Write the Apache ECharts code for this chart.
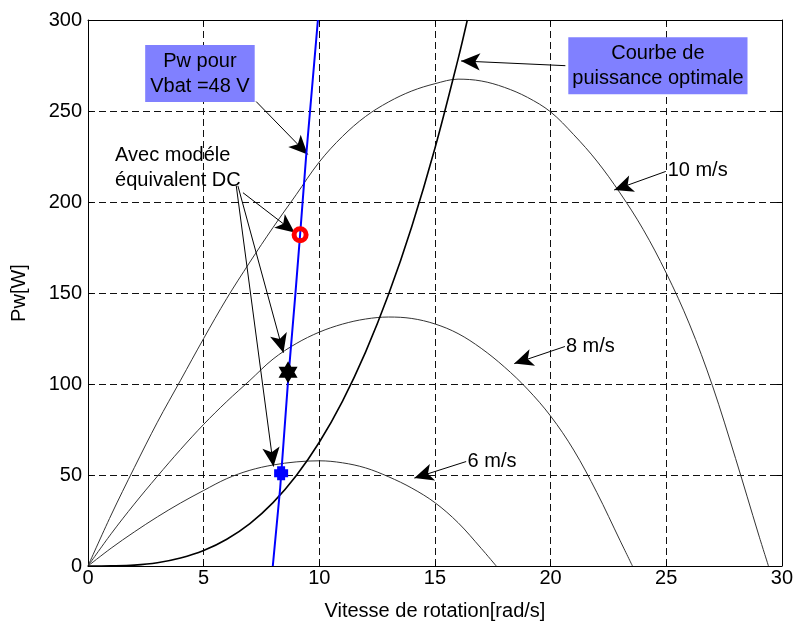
<!DOCTYPE html>
<html>
<head>
<meta charset="utf-8">
<script src="https://cdn.jsdelivr.net/npm/echarts@6/dist/echarts.min.js"></script>
<style>
html,body{margin:0;padding:0;background:#fff;}
#chart{width:796px;height:626px;}
</style>
</head>
<body>
<div id="chart"></div>
<script>
// ---- data ----
const xTicks = [0, 5, 10, 15, 20, 25, 30];
const yTicks = [0, 50, 100, 150, 200, 250, 300];

// 10 m/s curve
const w10 = [0,1,2,3,4,5,6,7,8,9,10,11,12,13,14,15,16,17,18,19,20,21,22,23,24,25,26,27,28,29,29.42];
const p10 = [0,28,54,79,102,125,147,167,186,204,222,236,247,255,261,265,267.5,266.5,263,257.5,249.5,237,222.5,205,185,161,133,99,59,17,0];

// 8 m/s curve
const w8 = [0,1,2,3,4,5,6,7,8,9,10,11,12,13,14,15,16,17,18,19,20,21,22,23,23.54];
const p8 = [0,17.7,34,49.3,64,77.8,90.4,102,113.7,122.2,128.5,132.9,135.7,136.8,136,133,127.7,119.6,109.4,97.2,82.4,63.7,40.4,14.1,0];

// 6 m/s curve
const w6 = [0,1,2,3,4,5,6,7,8,9,10,11,12,13,14,15,16,17,17.65];
const p6 = [0,9.8,18.7,27,34.6,41.5,48,52.6,55.5,57.2,57.8,56.7,53.9,49,42.8,34.8,23.8,9.7,0];

// optimal power curve
const wOpt = [0,1,2,3,4,5,6,7,8,9,10,11,12,13,14,15,16,16.4];
const pOpt = [0,0.1,0.5,1.8,4.4,8.5,14.7,23.3,34.8,49.6,68,90.5,117.5,149.4,186.6,229.5,278.5,300];

// Pw for Vbat = 48 V
const wBat = [7.99,8.31,8.64,8.97,9.17,9.43,9.94];
const pBat = [0,43,100,150,182,225,300];

// DC equivalent model points
const ptCircle = [9.17, 182];
const ptHexa = [8.65, 106.5];
const ptBlue = [8.35, 51];

// annotation texts
const txtPw = 'Pw pour\nVbat =48 V';
const txtOpt = 'Courbe de\npuissance optimale';
const txtAvec = 'Avec modéle\néquivalent DC';
const txt10 = '10 m/s', txt8 = '8 m/s', txt6 = '6 m/s';

// annotation anchors (data coordinates)
const posPw = [4.84, 270.6];
const posOpt = [24.64, 274.8];
const posAvec = [1.15, 218.5];
const pos10 = [25.04, 217.2];
const pos8 = [20.64, 120.5];
const pos6 = [16.39, 57.4];

// arrows: [tail, head]
const arrows = [
  [[7.27, 255.2], [9.50, 226.1]],
  [[20.64, 274.9], [16.13, 277.5]],
  [[24.98, 216.8], [22.75, 206.6]],
  [[20.62, 120.6], [18.43, 111.2]],
  [[16.35, 57.4], [14.11, 48.3]],
  [[6.70, 205.1], [8.93, 183.3]],
  [[6.48, 208.9], [8.45, 117.2]],
  [[6.41, 208.9], [8.02, 54.7]]
];

const pairs = (xs, ys) => xs.map((x, i) => [x, ys[i]]);
const FONT = "'Liberation Sans', Arial, Helvetica, sans-serif";

const chart = echarts.init(document.getElementById('chart'), null, {renderer: 'canvas'});

const hexPath = 'path://M0,-1 L0.2887,-0.5 L0.866,-0.5 L0.5774,0 L0.866,0.5 L0.2887,0.5 L0,1 L-0.2887,0.5 L-0.866,0.5 L-0.5774,0 L-0.866,-0.5 L-0.2887,-0.5 Z';
const blobPath = 'path://M-0.5,-1 L0.5,-1 L0.5,-0.5 L1,-0.5 L1,0.5 L0.5,0.5 L0.5,1 L-0.5,1 L-0.5,0.5 L-1,0.5 L-1,-0.5 L-0.5,-0.5 Z';

const textPoint = (coord, text, opts) => ({
  coord: coord, value: 0, symbol: 'rect', symbolSize: 1,
  itemStyle: {color: 'rgba(0,0,0,0)'},
  label: Object.assign({
    show: true, formatter: text, color: '#000', fontSize: 20, fontFamily: FONT,
    lineHeight: 25
  }, opts)
});

const curveStyle = (w, c) => ({color: c, width: w});

const option = {
  animation: false,
  backgroundColor: '#fff',
  grid: {left: 88, right: 13, top: 20, bottom: 58, containLabel: false, show: false},
  xAxis: [{
    type: 'value', min: 0, max: 30, interval: 5, position: 'bottom',
    axisLine: {show: true, onZero: false, lineStyle: {color: '#000', width: 1}},
    axisTick: {show: true, inside: true, length: 5, lineStyle: {color: '#000'}},
    axisLabel: {show: true, color: '#000', fontSize: 20, fontFamily: FONT, margin: 2,
      formatter: v => (xTicks.indexOf(v) >= 0 ? String(v) : '')},
    splitLine: {show: true, lineStyle: {color: '#111', width: 1, type: [7, 4]}},
    name: 'Vitesse de rotation[rad/s]', nameLocation: 'middle', nameGap: 35,
    nameTextStyle: {color: '#000', fontSize: 20, fontFamily: FONT}
  }, {
    type: 'value', min: 0, max: 30, interval: 5, position: 'top',
    axisLine: {show: true, onZero: false, lineStyle: {color: '#000', width: 1}},
    axisTick: {show: true, inside: true, length: 5, lineStyle: {color: '#000'}},
    axisLabel: {show: false}, splitLine: {show: false}
  }],
  yAxis: [{
    type: 'value', min: 0, max: 300, interval: 50, position: 'left',
    axisLine: {show: true, onZero: false, lineStyle: {color: '#000', width: 1}},
    axisTick: {show: true, inside: true, length: 5, lineStyle: {color: '#000'}},
    axisLabel: {show: true, color: '#000', fontSize: 20, fontFamily: FONT, margin: 6,
      formatter: v => (yTicks.indexOf(v) >= 0 ? String(v) : '')},
    splitLine: {show: true, lineStyle: {color: '#111', width: 1, type: [7, 4]}},
    name: 'Pw[W]', nameLocation: 'middle', nameGap: 59, nameRotate: 90,
    nameTextStyle: {color: '#000', fontSize: 20, fontFamily: FONT}
  }, {
    type: 'value', min: 0, max: 300, interval: 50, position: 'right',
    axisLine: {show: true, onZero: false, lineStyle: {color: '#000', width: 1}},
    axisTick: {show: true, inside: true, length: 5, lineStyle: {color: '#000'}},
    axisLabel: {show: false}, splitLine: {show: false}
  }],
  series: [
    {name: '10 m/s', type: 'line', data: pairs(w10, p10), showSymbol: false, smooth: 0.35,
     lineStyle: curveStyle(1, '#333'), z: 3, silent: true},
    {name: '8 m/s', type: 'line', data: pairs(w8, p8), showSymbol: false, smooth: 0.35,
     lineStyle: curveStyle(1, '#333'), z: 3, silent: true},
    {name: '6 m/s', type: 'line', data: pairs(w6, p6), showSymbol: false, smooth: 0.35,
     lineStyle: curveStyle(1, '#333'), z: 3, silent: true},
    {name: 'optimale', type: 'line', data: pairs(wOpt, pOpt), showSymbol: false, smooth: 0.35,
     lineStyle: curveStyle(1.6, '#000'), z: 4, silent: true},
    {name: 'Vbat', type: 'line', data: pairs(wBat, pBat), showSymbol: false,
     lineStyle: curveStyle(2, '#0000ff'), z: 5, silent: true,
     markLine: {
       silent: true, animation: false,
       symbol: ['none', 'arrow'], symbolSize: [13, 19],
       label: {show: false},
       lineStyle: {color: '#000', width: 1, type: 'solid'},
       emphasis: {disabled: true},
       data: arrows.map(a => [{coord: a[0]}, {coord: a[1]}])
     },
     markPoint: {
       silent: true, animation: false,
       data: [
         textPoint(posPw, txtPw, {position: 'inside', align: 'center', verticalAlign: 'middle',
           backgroundColor: '#8080ff', padding: [4, 5, 3, 5]}),
         textPoint(posOpt, txtOpt, {position: 'inside', align: 'center', verticalAlign: 'middle',
           backgroundColor: '#8080ff', padding: [4, 4, 3, 4]}),
         textPoint(posAvec, txtAvec, {position: 'right', distance: 0, align: 'left'}),
         textPoint(pos10, txt10, {position: 'right', distance: 0, align: 'left'}),
         textPoint(pos8, txt8, {position: 'right', distance: 0, align: 'left'}),
         textPoint(pos6, txt6, {position: 'right', distance: 0, align: 'left'})
       ]
     }
    },
    {name: 'circle', type: 'scatter', data: [ptCircle], symbol: 'circle', symbolSize: 12,
     itemStyle: {color: 'rgba(0,0,0,0)', borderColor: '#ff0000', borderWidth: 5, opacity: 1}, z: 6, silent: true},
    {name: 'hexa', type: 'scatter', data: [ptHexa], symbol: hexPath, symbolSize: [19, 22],
     itemStyle: {color: '#000', opacity: 1}, z: 6, silent: true},
    {name: 'blue', type: 'scatter', data: [ptBlue], symbol: blobPath, symbolSize: 12,
     itemStyle: {color: '#0000ff', borderColor: '#0000ff', borderWidth: 2, opacity: 1}, z: 6, silent: true}
  ]
};
chart.setOption(option);
</script>
</body>
</html>
